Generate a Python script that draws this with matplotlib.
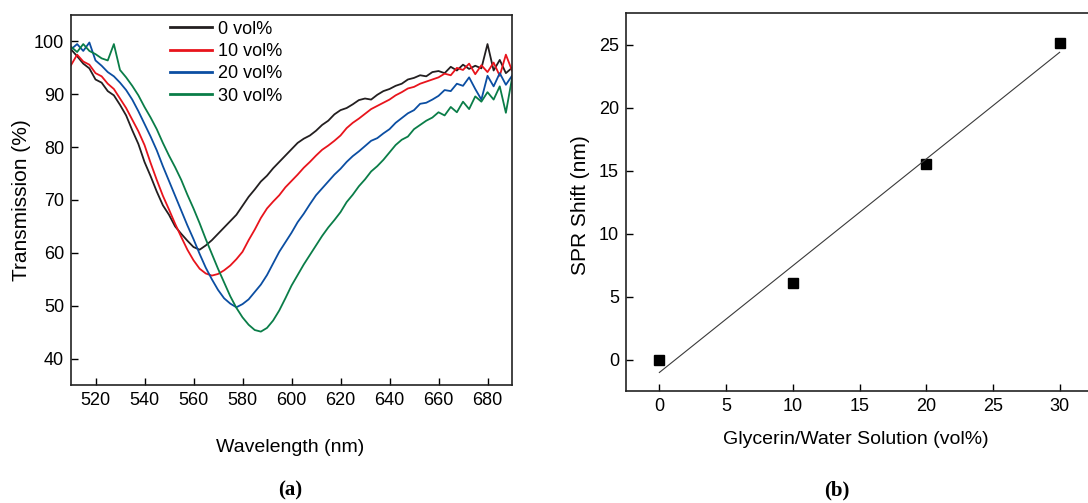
import matplotlib
matplotlib.use("Agg")
import matplotlib.pyplot as plt
import numpy as np

plt.rcParams['font.family'] = ['Liberation Sans', 'DejaVu Sans']

# ---------------- data: panel (a) ----------------
wavelength = [510, 512.5, 515, 517.5, 520, 522.5, 525, 527.5, 530, 532.5, 535, 537.5,
              540, 542.5, 545, 547.5, 550, 552.5, 555, 557.5, 560, 562.5, 565, 567.5,
              570, 572.5, 575, 577.5, 580, 582.5, 585, 587.5, 590, 592.5, 595, 597.5,
              600, 602.5, 605, 607.5, 610, 612.5, 615, 617.5, 620, 622.5, 625, 627.5,
              630, 632.5, 635, 637.5, 640, 642.5, 645, 647.5, 650, 652.5, 655, 657.5,
              660, 662.5, 665, 667.5, 670, 672.5, 675, 677.5, 680, 682.5, 685, 687.5, 690]

trans_0 = [98.5, 97.2, 95.8, 94.9, 92.8, 92.2, 90.6, 89.8, 88.0, 86.0, 83.2, 80.6,
           77.2, 74.5, 71.6, 69.0, 67.2, 65.0, 63.6, 62.3, 61.1, 60.6, 61.4, 62.4,
           63.6, 64.8, 66.0, 67.2, 68.9, 70.6, 72.0, 73.5, 74.6, 76.0, 77.2, 78.4,
           79.6, 80.8, 81.6, 82.2, 83.1, 84.2, 85.0, 86.2, 87.0, 87.4, 88.1, 88.9,
           89.2, 89.0, 89.9, 90.6, 91.0, 91.6, 92.0, 92.8, 93.1, 93.6, 93.4, 94.2,
           94.4, 94.0, 95.2, 94.5, 95.6, 94.8, 95.4, 94.9, 99.5, 94.5, 96.5, 94.0, 95.0]

trans_10 = [95.5, 97.5, 96.2, 95.6, 94.0, 93.4, 92.0, 91.0, 89.2, 87.4, 85.2, 83.0,
            80.4, 77.0, 73.8, 70.8, 68.2, 65.5, 63.0, 60.6, 58.6, 57.0, 56.1, 55.7,
            56.0, 56.7, 57.6, 58.8, 60.2, 62.4, 64.4, 66.6, 68.4, 69.7, 70.9, 72.4,
            73.6, 74.8, 76.1, 77.2, 78.4, 79.5, 80.3, 81.2, 82.2, 83.6, 84.6, 85.4,
            86.3, 87.2, 87.8, 88.4, 89.0, 89.8, 90.4, 91.1, 91.4, 92.0, 92.4, 92.8,
            93.2, 93.9, 93.6, 95.0, 94.6, 95.8, 93.8, 95.5, 94.2, 96.0, 93.5, 97.5, 94.5]

trans_20 = [98.5, 99.5, 98.2, 99.8, 96.4, 95.4, 94.2, 93.4, 92.2, 90.8, 89.0, 86.8,
            84.4, 82.0, 79.4, 76.4, 73.6, 70.8, 68.0, 65.2, 62.6, 59.8, 57.2, 55.0,
            53.0, 51.4, 50.4, 49.7, 50.3, 51.2, 52.6, 54.0, 55.8, 58.0, 60.2, 62.0,
            63.8, 65.8, 67.4, 69.2, 70.9, 72.2, 73.5, 74.8, 75.9, 77.2, 78.3, 79.2,
            80.2, 81.2, 81.7, 82.6, 83.4, 84.6, 85.5, 86.4, 87.0, 88.2, 88.4, 89.0,
            89.7, 90.8, 90.6, 92.0, 91.6, 93.2, 91.0, 89.0, 93.5, 91.5, 94.0, 91.8, 93.5]

trans_30 = [99.0, 98.0, 99.5, 98.2, 97.6, 96.8, 96.4, 99.5, 94.6, 93.2, 91.6, 89.8,
            87.6, 85.6, 83.4, 80.8, 78.4, 76.2, 73.8, 71.0, 68.4, 65.6, 62.6, 59.8,
            57.0, 54.4, 51.8, 49.6, 47.8, 46.4, 45.4, 45.1, 45.8, 47.2, 49.1, 51.4,
            53.8, 55.8, 57.8, 59.6, 61.4, 63.2, 64.8, 66.2, 67.7, 69.6, 71.0, 72.6,
            73.9, 75.4, 76.4, 77.6, 79.0, 80.4, 81.4, 82.0, 83.4, 84.2, 85.0, 85.6,
            86.6, 86.0, 87.6, 86.6, 88.6, 87.2, 89.6, 88.6, 90.4, 89.0, 91.5, 86.5, 93.0]

series_labels = ['0 vol%', '10 vol%', '20 vol%', '30 vol%']
series_colors = ['#231f20', '#e8141c', '#0b4ea2', '#0a7d48']

# ---------------- data: panel (b) ----------------
glycerin = [0, 10, 20, 30]
spr_shift = [0.0, 6.1, 15.5, 25.1]

x_ticks_a = [520, 540, 560, 580, 600, 620, 640, 660, 680]
y_ticks_a = [40, 50, 60, 70, 80, 90, 100]
x_ticks_b = [0, 5, 10, 15, 20, 25, 30]
y_ticks_b = [0, 5, 10, 15, 20, 25]

# ---------------- figure ----------------
W, H = 1088, 503
fig = plt.figure(figsize=(W / 100, H / 100), dpi=100)

def frac(l, t, r, b):
    return [l / W, 1 - b / H, (r - l) / W, (b - t) / H]

ax1 = fig.add_axes(frac(71, 15, 512, 385))
ax2 = fig.add_axes(frac(626, 13, 1093, 391))

for ys, lab, col in zip([trans_0, trans_10, trans_20, trans_30], series_labels, series_colors):
    ax1.plot(wavelength, ys, color=col, lw=1.3, label=lab)

ax1.set_xlim(510, 690)
ax1.set_ylim(35, 105)
ax1.set_xticks(x_ticks_a)
ax1.set_yticks(y_ticks_a)

leg = ax1.legend(loc='upper left', bbox_to_anchor=(0.225, 0.985), frameon=False,
                 fontsize=13, handlelength=2.3, handletextpad=0.35,
                 labelspacing=0.3, borderpad=0, borderaxespad=0)
for h in leg.get_lines():
    h.set_linewidth(2.0)

ax2.plot(glycerin, spr_shift, linestyle='none', marker='s', ms=6.5, color='black')
coef = np.polyfit(glycerin, spr_shift, 1)
fit_x = np.array([glycerin[0], glycerin[-1]])
ax2.plot(fit_x, np.polyval(coef, fit_x), color='#3a3a3a', lw=0.8)
ax2.set_xlim(-2.5, 32.5)
ax2.set_ylim(-2.5, 27.5)
ax2.set_xticks(x_ticks_b)
ax2.set_yticks(y_ticks_b)

for ax in (ax1, ax2):
    ax.tick_params(direction='in', length=5, width=1, labelsize=13, pad=5,
                   top=False, right=False)
    for sp in ax.spines.values():
        sp.set_linewidth(1.2)
        sp.set_color('#222222')

fig.text(22 / W, 1 - 200 / H, 'Transmission (%)', rotation=90, ha='center', va='center', fontsize=15)
fig.text(290 / W, 1 - 447 / H, 'Wavelength (nm)', ha='center', va='center', fontsize=14)
fig.text(580 / W, 1 - 205 / H, 'SPR Shift (nm)', rotation=90, ha='center', va='center', fontsize=15)
fig.text(856 / W, 1 - 440 / H, 'Glycerin/Water Solution (vol%)', ha='center', va='center', fontsize=14)

fig.text(290 / W, 1 - 490 / H, '(a)', ha='center', va='center', fontsize=15,
         family='Liberation Serif', fontweight='bold')
fig.text(837 / W, 1 - 490 / H, '(b)', ha='center', va='center', fontsize=15,
         family='Liberation Serif', fontweight='bold')

fig.savefig('out.png', dpi=100)
